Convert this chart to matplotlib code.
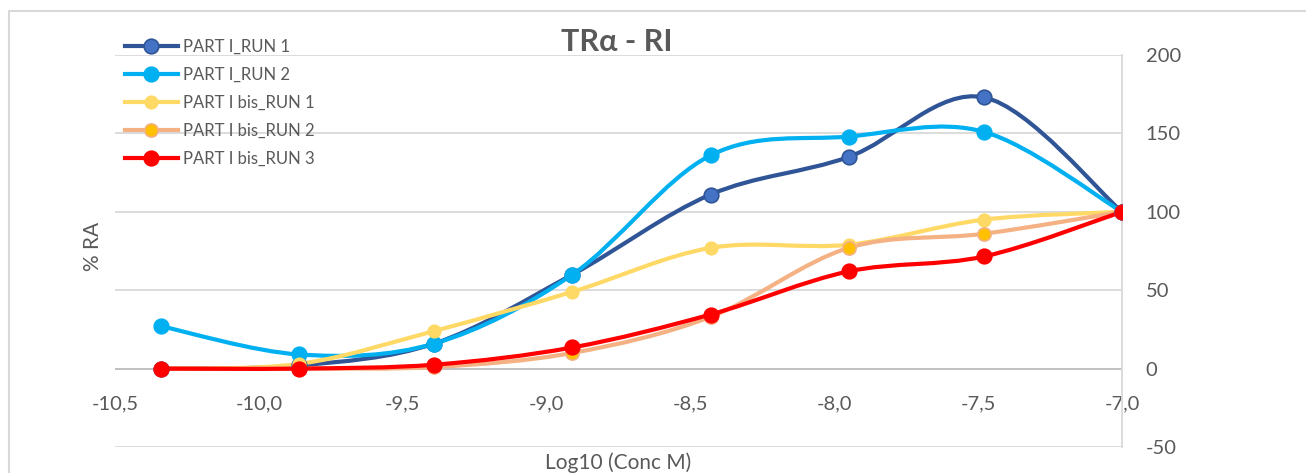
import numpy as np
import matplotlib
matplotlib.use('Agg')
import matplotlib.pyplot as plt
from matplotlib.path import Path
from matplotlib.patches import PathPatch
from matplotlib.lines import Line2D

plt.rcParams['font.family'] = ['Lato', 'DejaVu Sans']

# log10 of concentration (M)
log_conc = [-10.34, -9.86, -9.39, -8.91, -8.43, -7.95, -7.48, -7.0]

part1_run1 = [0, 2, 16, 60, 111, 135, 173, 100]
part1_run2 = [27, 9, 16, 60, 136, 148, 151, 100]
part1bis_run1 = [0, 3, 24, 49, 77, 79, 95, 100]
part1bis_run2 = [0, 0, 1, 10, 33, 77, 86, 100]
part1bis_run3 = [0, 0, 2.5, 13.5, 34.5, 62, 71.5, 100]

series_names = ['PART I_RUN 1', 'PART I_RUN 2', 'PART I bis_RUN 1',
                'PART I bis_RUN 2', 'PART I bis_RUN 3']

x_ticks = [-10.5, -10.0, -9.5, -9.0, -8.5, -8.0, -7.5, -7.0]
x_tick_labels = ['-10,5', '-10,0', '-9,5', '-9,0', '-8,5', '-8,0', '-7,5', '-7,0']
y_ticks = [-50, 0, 50, 100, 150, 200]

TEXT = '#595959'
GRID = '#D9D9D9'

W, H = 1306, 473


def smooth_path(xs, ys):
    # excel style smoothed line: catmull-rom turned into bezier segments
    pts = np.column_stack([xs, ys]).astype(float)
    n = len(pts)
    verts = [pts[0]]
    codes = [Path.MOVETO]
    for i in range(n - 1):
        p0 = pts[i - 1] if i > 0 else pts[i]
        p1 = pts[i]
        p2 = pts[i + 1]
        p3 = pts[i + 2] if i + 2 < n else pts[i + 1]
        c1 = p1 + (p2 - p0) / 6.0
        c2 = p2 - (p3 - p1) / 6.0
        verts += [c1, c2, p2]
        codes += [Path.CURVE4] * 3
    return Path(verts, codes)


fig = plt.figure(figsize=(W / 100, H / 100), dpi=100)
ax = fig.add_axes([115 / W, 1 - 447 / H, (1122 - 115) / W, (447 - 55) / H])

ax.set_xlim(-10.5, -7.0)
ax.set_ylim(-50, 200)

# series: (values, line colour, marker face, marker edge, marker size)
styles = [
    (part1_run1, '#2F5597', '#4472C4', '#2F5597', 10.5),
    (part1_run2, '#00B0F0', '#00B0F0', '#00B0F0', 10.5),
    (part1bis_run1, '#FFD966', '#FFD966', '#FFD966', 9),
    (part1bis_run2, '#F4B183', '#FFC000', '#F4B183', 9.5),
    (part1bis_run3, '#FF0000', '#FF0000', '#FF0000', 10.5),
]

handles = []
for (vals, lc, mfc, mec, ms), name in zip(styles, series_names):
    patch = PathPatch(smooth_path(log_conc, vals), facecolor='none', edgecolor=lc,
                      lw=3, capstyle='round', joinstyle='round', zorder=3)
    ax.add_patch(patch)
    ax.plot(log_conc, vals, ls='none', marker='o', ms=ms, mfc=mfc, mec=mec,
            mew=1.2, zorder=4)
    handles.append(Line2D([], [], color=lc, lw=3, marker='o', ms=ms, mfc=mfc,
                          mec=mec, mew=1.2, label=name))

# horizontal gridlines
ax.set_yticks(y_ticks)
ax.yaxis.grid(True, color=GRID, lw=1.3)
ax.set_axisbelow(True)
ax.axhline(0, color='#BFBFBF', lw=1.3, zorder=1)

for s in ['top', 'left']:
    ax.spines[s].set_visible(False)
ax.spines['right'].set_color(GRID)
ax.spines['right'].set_linewidth(1.3)

ax.yaxis.tick_right()
ax.tick_params(axis='y', length=0, pad=17, labelsize=14.5, labelcolor=TEXT)
ax.set_yticklabels([str(v) for v in y_ticks])

# x labels sit just under the zero line, not at the bottom of the axes
ax.spines['bottom'].set_position(('data', 0))
ax.spines['bottom'].set_visible(False)
ax.set_xticks(x_ticks)
ax.set_xticklabels(x_tick_labels)
ax.tick_params(axis='x', length=0, pad=19, labelsize=14.5, labelcolor=TEXT)

ax.legend(handles=handles, loc='upper left', bbox_to_anchor=(3 / (1122 - 115), 1.058),
          frameon=False, fontsize=12, labelcolor=TEXT, handlelength=3.2,
          handletextpad=0.3, labelspacing=0.72, borderaxespad=0)

fig.text(617 / W, 1 - 42 / H, 'TRα - RI', ha='center', va='center',
         fontsize=22, fontweight='bold', color=TEXT)
fig.text(93 / W, 1 - 246 / H, '% RA', ha='center', va='center', rotation=90,
         fontsize=15, color=TEXT)
fig.text(618 / W, 1 - 463 / H, 'Log10 (Conc M)', ha='center', va='center',
         fontsize=15, color=TEXT)

# outer chart border (top and left edges visible)
fig.add_artist(Line2D([9 / W, 9 / W, 1.0], [0.0, 1 - 11 / H, 1 - 11 / H],
                      transform=fig.transFigure, color=GRID, lw=1.5))

fig.savefig('out.png', dpi=100)
